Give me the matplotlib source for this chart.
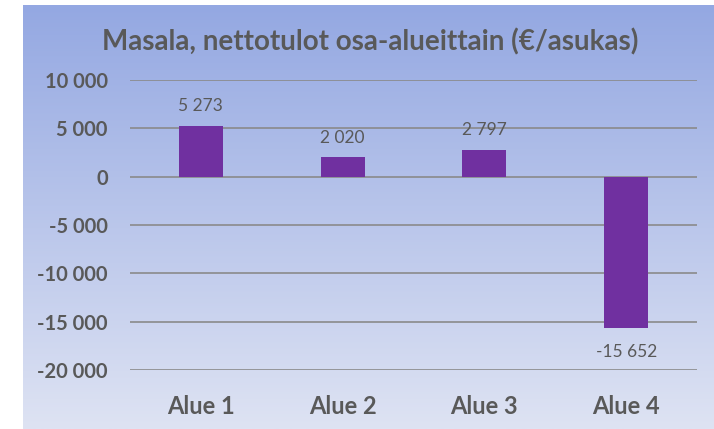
import numpy as np
import matplotlib
matplotlib.use("Agg")
from matplotlib import pyplot as plt

categories = ["Alue 1", "Alue 2", "Alue 3", "Alue 4"]
values = [5273, 2020, 2797, -15652]
value_labels = ["5 273", "2 020", "2 797", "-15 652"]
yticks = [10000, 5000, 0, -5000, -10000, -15000, -20000]
ytick_labels = ["10 000", "5 000", "0", "-5 000", "-10 000", "-15 000", "-20 000"]

plt.rcParams['font.family'] = ['Lato', 'DejaVu Sans']
txt = '#595959'

fig = plt.figure(figsize=(7.14, 4.29), dpi=100)
fig.patch.set_facecolor('white')

# gradient background panel
bg = fig.add_axes([23/714, 0, 1 - 23/714, 424/429], zorder=0)
top = np.array([148, 168, 226]) / 255
bot = np.array([222, 227, 243]) / 255
t = np.linspace(0, 1, 256)[:, None]
grad = (top[None, :] * (1 - t) + bot[None, :] * t)[:, None, :]
bg.imshow(grad, aspect='auto', extent=[0, 1, 0, 1])
bg.axis('off')

ax = fig.add_axes([130/714, 1 - 370/429, (697 - 130)/714, (370 - 80)/429], zorder=1)
ax.patch.set_alpha(0)
x = np.arange(len(categories))
ax.bar(x, values, width=0.31, color='#7030A0', zorder=3)
ax.set_xlim(-0.5, len(categories) - 0.5)
ax.set_ylim(-20000, 10000)
ax.set_yticks(yticks)
ax.set_yticklabels(ytick_labels, fontsize=14.5, fontweight='bold', color=txt)
ax.set_xticks(x)
ax.set_xticklabels(categories, fontsize=17, fontweight='bold', color=txt)
ax.tick_params(axis='both', length=0)
ax.tick_params(axis='y', pad=16)
ax.tick_params(axis='x', pad=18)
ax.grid(axis='y', color='#8a8a8a', linewidth=1.2, zorder=0)
for s in ax.spines.values():
    s.set_visible(False)

for xi, v, lab in zip(x, values, value_labels):
    off = 14 if v >= 0 else -17
    ax.annotate(lab, (xi, v), xytext=(0, off), textcoords='offset points',
                ha='center', va='center', fontsize=12.5, color=txt)

fig.text(370/714, 1 - 42/429, "Masala, nettotulot osa-alueittain (€/asukas)",
         ha='center', va='center', fontsize=20, fontweight='bold', color=txt)

fig.savefig("out.png", dpi=100)
